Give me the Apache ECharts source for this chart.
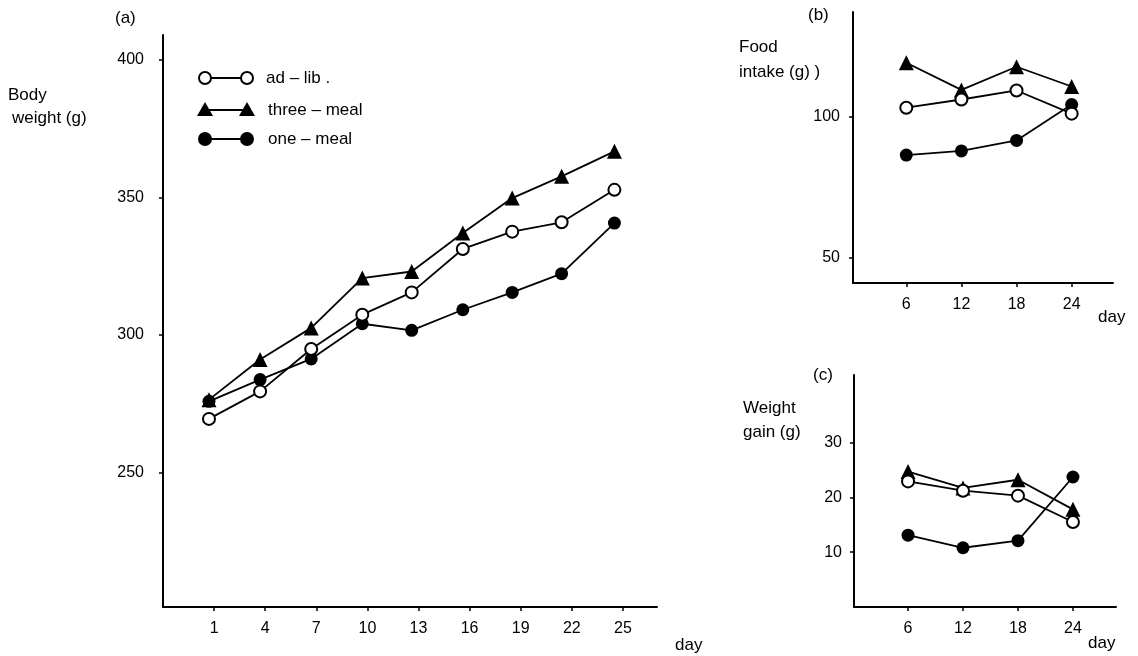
<!DOCTYPE html>
<html>
<head>
<meta charset="utf-8">
<script src="https://cdn.jsdelivr.net/npm/echarts@6/dist/echarts.min.js"></script>
<style>
  html, body { margin: 0; padding: 0; background: #fff; }
  #chart { width: 1138px; height: 656px; }
</style>
</head>
<body>
<div id="chart"></div>
<script>
// (a) body weight
var daysA = [1, 4, 7, 10, 13, 16, 19, 22, 25];
// point positions as drawn (slightly left of the tick marks)
var xA = [0.7, 3.7, 6.7, 9.7, 12.6, 15.6, 18.5, 21.4, 24.5];
var adlibA = [269.4, 279.4, 294.8, 307.3, 315.4, 331.2, 337.5, 340.9, 352.7];
var threeA = [276.4, 291.0, 302.5, 320.6, 323.0, 337.0, 349.7, 357.6, 366.7];
var oneA = [275.8, 283.7, 291.2, 304.0, 301.6, 309.1, 315.4, 322.2, 340.6];
var ticksYA = [250, 300, 350, 400];

// (b) food intake
var daysB = [6, 12, 18, 24];
var adlibB = [103.1, 106.0, 109.2, 101.0];
var threeB = [119.0, 109.4, 117.6, 110.6];
var oneB = [86.3, 87.8, 91.5, 104.2];
var ticksYB = [50, 100];

// (c) weight gain
var daysC = [6, 12, 18, 24];
var adlibC = [22.9, 21.2, 20.3, 15.5];
var threeC = [24.7, 21.7, 23.2, 17.8];
var oneC = [13.1, 10.8, 12.1, 23.7];
var ticksYC = [10, 20, 30];

var font = 'Liberation Sans, Arial, sans-serif';

function pairs(xs, ys) {
    return xs.map(function (x, i) { return [x, ys[i]]; });
}

function axisCfg(idx, min, max, ticks, margin) {
    return {
        type: 'value', gridIndex: idx, min: min, max: max,
        splitLine: { show: false },
        axisLine: { onZero: false, lineStyle: { color: '#000', width: 2 } },
        axisTick: { length: 4, lineStyle: { color: '#000', width: 1.5 }, customValues: ticks },
        axisLabel: { color: '#000', fontSize: 16, fontFamily: font, margin: margin, customValues: ticks }
    };
}

var lineStyle = { color: '#000', width: 1.8 };
function seriesSet(idx, data3) {
    return [
        { name: 'ad-lib', type: 'line', xAxisIndex: idx, yAxisIndex: idx, data: data3[0],
          symbol: 'circle', symbolSize: 12, lineStyle: lineStyle,
          itemStyle: { color: '#fff', borderColor: '#000', borderWidth: 2 }, z: 4 },
        { name: 'three-meal', type: 'line', xAxisIndex: idx, yAxisIndex: idx, data: data3[1],
          symbol: 'triangle', symbolSize: 15, lineStyle: lineStyle,
          itemStyle: { color: '#000' }, z: 3 },
        { name: 'one-meal', type: 'line', xAxisIndex: idx, yAxisIndex: idx, data: data3[2],
          symbol: 'circle', symbolSize: 13, lineStyle: lineStyle,
          itemStyle: { color: '#000' }, z: 3 }
    ];
}

// single text line, y is the vertical centre
function txt(x, y, s, size) {
    return { type: 'text', x: x, y: y,
        style: { text: s, fill: '#000', font: (size || 17) + 'px ' + font, verticalAlign: 'middle' } };
}

// legend drawn by hand (line with a marker at each end)
function legendRow(y, shape, filled, label) {
    var items = [{ type: 'line', shape: { x1: 205, y1: y, x2: 247, y2: y }, style: { stroke: '#000', lineWidth: 1.8 } }];
    [205, 247].forEach(function (cx) {
        if (shape === 'circle') {
            items.push({ type: 'circle', shape: { cx: cx, cy: y, r: 6 },
                style: { fill: filled ? '#000' : '#fff', stroke: '#000', lineWidth: 2 }, z: 10 });
        } else {
            items.push({ type: 'polygon', shape: { points: [[cx, y - 8], [cx - 8, y + 6], [cx + 8, y + 6]] },
                style: { fill: '#000' }, z: 10 });
        }
    });
    items.push(txt(shape === 'circle' && !filled ? 266 : 268, y, label, 17));
    return items;
}

var chart = echarts.init(document.getElementById('chart'));
var option = {
    backgroundColor: '#fff',
    animation: false,
    grid: [
        { left: 163, top: 35, width: 494, height: 572 },
        { left: 853, top: 12, width: 260, height: 271 },
        { left: 854, top: 375, width: 262, height: 232 }
    ],
    xAxis: [
        axisCfg(0, -2, 27, daysA, 14),
        axisCfg(1, 0.2, 28.5, daysB, 14),
        axisCfg(2, 0.1, 28.7, daysC, 14)
    ],
    yAxis: [
        axisCfg(0, 201, 409, ticksYA, 19),
        axisCfg(1, 41, 137, ticksYB, 13),
        axisCfg(2, 0, 42.3, ticksYC, 12)
    ],
    series: []
        .concat(seriesSet(0, [pairs(xA, adlibA), pairs(xA, threeA), pairs(xA, oneA)]))
        .concat(seriesSet(1, [pairs(daysB, adlibB), pairs(daysB, threeB), pairs(daysB, oneB)]))
        .concat(seriesSet(2, [pairs(daysC, adlibC), pairs(daysC, threeC), pairs(daysC, oneC)])),
    graphic: [
        txt(115, 18, '(a)'),
        txt(8, 95, 'Body'),
        txt(12, 118, 'weight (g)'),
        txt(675, 645, 'day'),
        txt(808, 15, '(b)'),
        txt(739, 47, 'Food'),
        txt(739, 72, 'intake (g) )'),
        txt(1098, 317, 'day'),
        txt(813, 375, '(c)'),
        txt(743, 408, 'Weight'),
        txt(743, 432, 'gain (g)'),
        txt(1088, 643, 'day')
    ]
        .concat(legendRow(78, 'circle', false, 'ad – lib .'))
        .concat(legendRow(110, 'triangle', true, 'three – meal'))
        .concat(legendRow(139, 'circle', true, 'one – meal'))
};
chart.setOption(option);
</script>
</body>
</html>
